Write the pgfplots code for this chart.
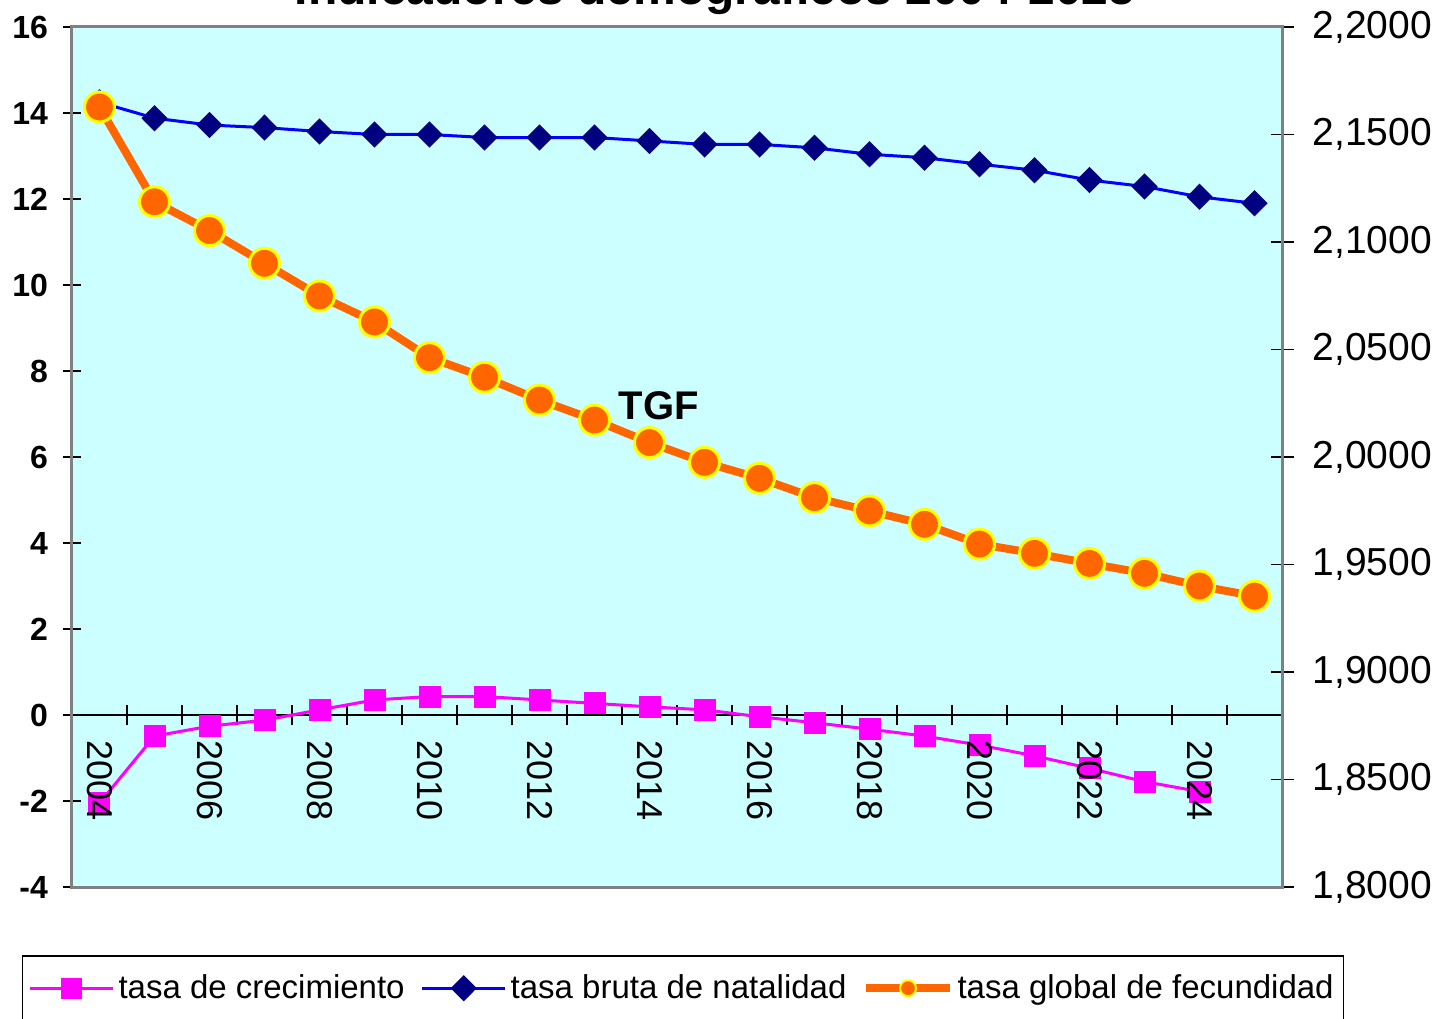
\documentclass[border=0pt]{standalone}
\usepackage{pgfplots}
\pgfplotsset{compat=1.18}
\usepackage{fontspec}
\setmainfont{Liberation Sans}
\definecolor{bgcyan}{HTML}{CCFFFF}
\definecolor{mag}{HTML}{FF00FF}
\definecolor{bline}{HTML}{0000FF}
\definecolor{navym}{HTML}{000080}
\definecolor{orng}{HTML}{FF6600}
\definecolor{yel}{HTML}{FFFF00}
\definecolor{frame}{HTML}{808080}
\begin{document}
\begin{tikzpicture}
\useasboundingbox (-36pt,-65.5pt) rectangle (683.5pt,443.5pt);
\node[anchor=base, font=\fontsize{24}{28}\selectfont\bfseries] at (321.5pt,441pt) {Indicadores demográficos 2004-2025};
\begin{axis}[
  scale only axis, width=605pt, height=430pt,
  xmin=-0.5, xmax=21.5, ymin=-4, ymax=16,
  axis background/.style={fill=bgcyan},
  axis x line=middle, axis y line=left,
  axis line style={-},
  x axis line style={black, line width=0.6pt},
  y axis line style={frame!70!black, line width=1.5pt},
  xtick={0,2,...,20},
  xticklabels={},
  major x tick style={draw=none},
  minor xtick={0.5,1.5,...,20.5},
  minor x tick style={black, line width=0.6pt},
  minor tick length=10pt,
  major tick length=9pt,
  tick align=center,
  ytick={-4,-2,...,16},
  y tick style={black, line width=0.6pt},
  yticklabel style={xshift=-4pt, font=\fontsize{16}{18}\selectfont\bfseries},
  /pgf/number format/assume math mode=true,
  clip=false,
]
\addplot[color=mag, line width=1.5pt, mark=square*, mark size=4.75pt, mark options={solid, fill=mag, draw=mag}] coordinates {
(0,-2.05) (1,-0.49) (2,-0.26) (3,-0.12) (4,0.12) (5,0.35) (6,0.43) (7,0.43) (8,0.35) (9,0.27) (10,0.19) (11,0.12) (12,-0.04) (13,-0.18) (14,-0.33) (15,-0.49) (16,-0.70) (17,-0.95) (18,-1.24) (19,-1.55) (20,-1.78)
};
\addplot[color=bline, line width=1.5pt, mark=diamond*, mark size=5.5pt, mark options={solid, fill=navym, draw=navym, xscale=1.33}] coordinates {
(0,14.25) (1,13.88) (2,13.72) (3,13.66) (4,13.57) (5,13.50) (6,13.50) (7,13.43) (8,13.43) (9,13.43) (10,13.35) (11,13.27) (12,13.27) (13,13.19) (14,13.04) (15,12.96) (16,12.81) (17,12.67) (18,12.44) (19,12.29) (20,12.05) (21,11.90)
};
\node[font=\fontsize{20}{24}\selectfont\bfseries] at (axis cs:10.17,7.19) {TGF};
\end{axis}
\begin{axis}[
  scale only axis, width=605pt, height=430pt,
  xmin=-0.5, xmax=21.5, ymin=1.8, ymax=2.2,
  axis line style={frame, line width=1.5pt},
  xtick={0,2,...,20},
  xticklabels={2004,2006,2008,2010,2012,2014,2016,2018,2020,2022,2024},
  xtick pos=bottom,
  x tick style={draw=none},
  xticklabel style={rotate=-90, anchor=west, xshift=-82.5pt, font=\fontsize{18}{20}\selectfont},
  ytick={1.8,1.85,1.9,1.95,2.0,2.05,2.1,2.15,2.2},
  ytick pos=right, yticklabel pos=right,
  major tick length=11.5pt, tick align=center,
  y tick style={black, line width=0.6pt},
  yticklabel style={xshift=6pt, font=\fontsize{19.5}{22}\selectfont, /pgf/number format/.cd, fixed, fixed zerofill, precision=4, use comma},
  /pgf/number format/assume math mode=true,
  legend columns=3,
  legend cell align=left,
  legend style={at={(0.505,0)}, anchor=north, yshift=-34pt, draw=black, line width=0.75pt, fill=white,
    font=\fontsize{16.5}{20}\selectfont, inner ysep=7.5pt,
    /tikz/every even column/.append style={column sep=6pt}},
  legend image code/.code={\draw[mark repeat=2, mark phase=2] plot coordinates {(0cm,0cm) (0.73cm,0cm) (1.46cm,0cm)};},
]
\addlegendimage{color=mag, line width=1.5pt, mark=square*, mark size=4.5pt, mark options={solid, fill=mag, draw=mag}}
\addlegendentry{tasa de crecimiento}
\addlegendimage{color=bline, line width=1.5pt, mark=diamond*, mark size=5.5pt, mark options={solid, fill=navym, draw=navym, xscale=1.33}}
\addlegendentry{tasa bruta de natalidad}
\addlegendimage{color=orng, line width=4pt, mark=*, mark size=4pt, mark options={solid, fill=orng, draw=yel, line width=1pt}}
\addlegendentry{tasa global de fecundidad}
\addplot[forget plot, color=orng, line width=4pt, mark=*, mark size=7.5pt, mark options={solid, fill=orng, draw=yel, line width=1.5pt}] coordinates {
(0,2.1628) (1,2.1187) (2,2.1053) (3,2.0901) (4,2.0749) (5,2.0628) (6,2.0462) (7,2.0371) (8,2.0265) (9,2.0172) (10,2.0067) (11,1.9975) (12,1.9901) (13,1.9811) (14,1.9749) (15,1.9687) (16,1.9595) (17,1.9552) (18,1.9505) (19,1.9459) (20,1.9400) (21,1.9353)
};
\end{axis}
\end{tikzpicture}
\end{document}
